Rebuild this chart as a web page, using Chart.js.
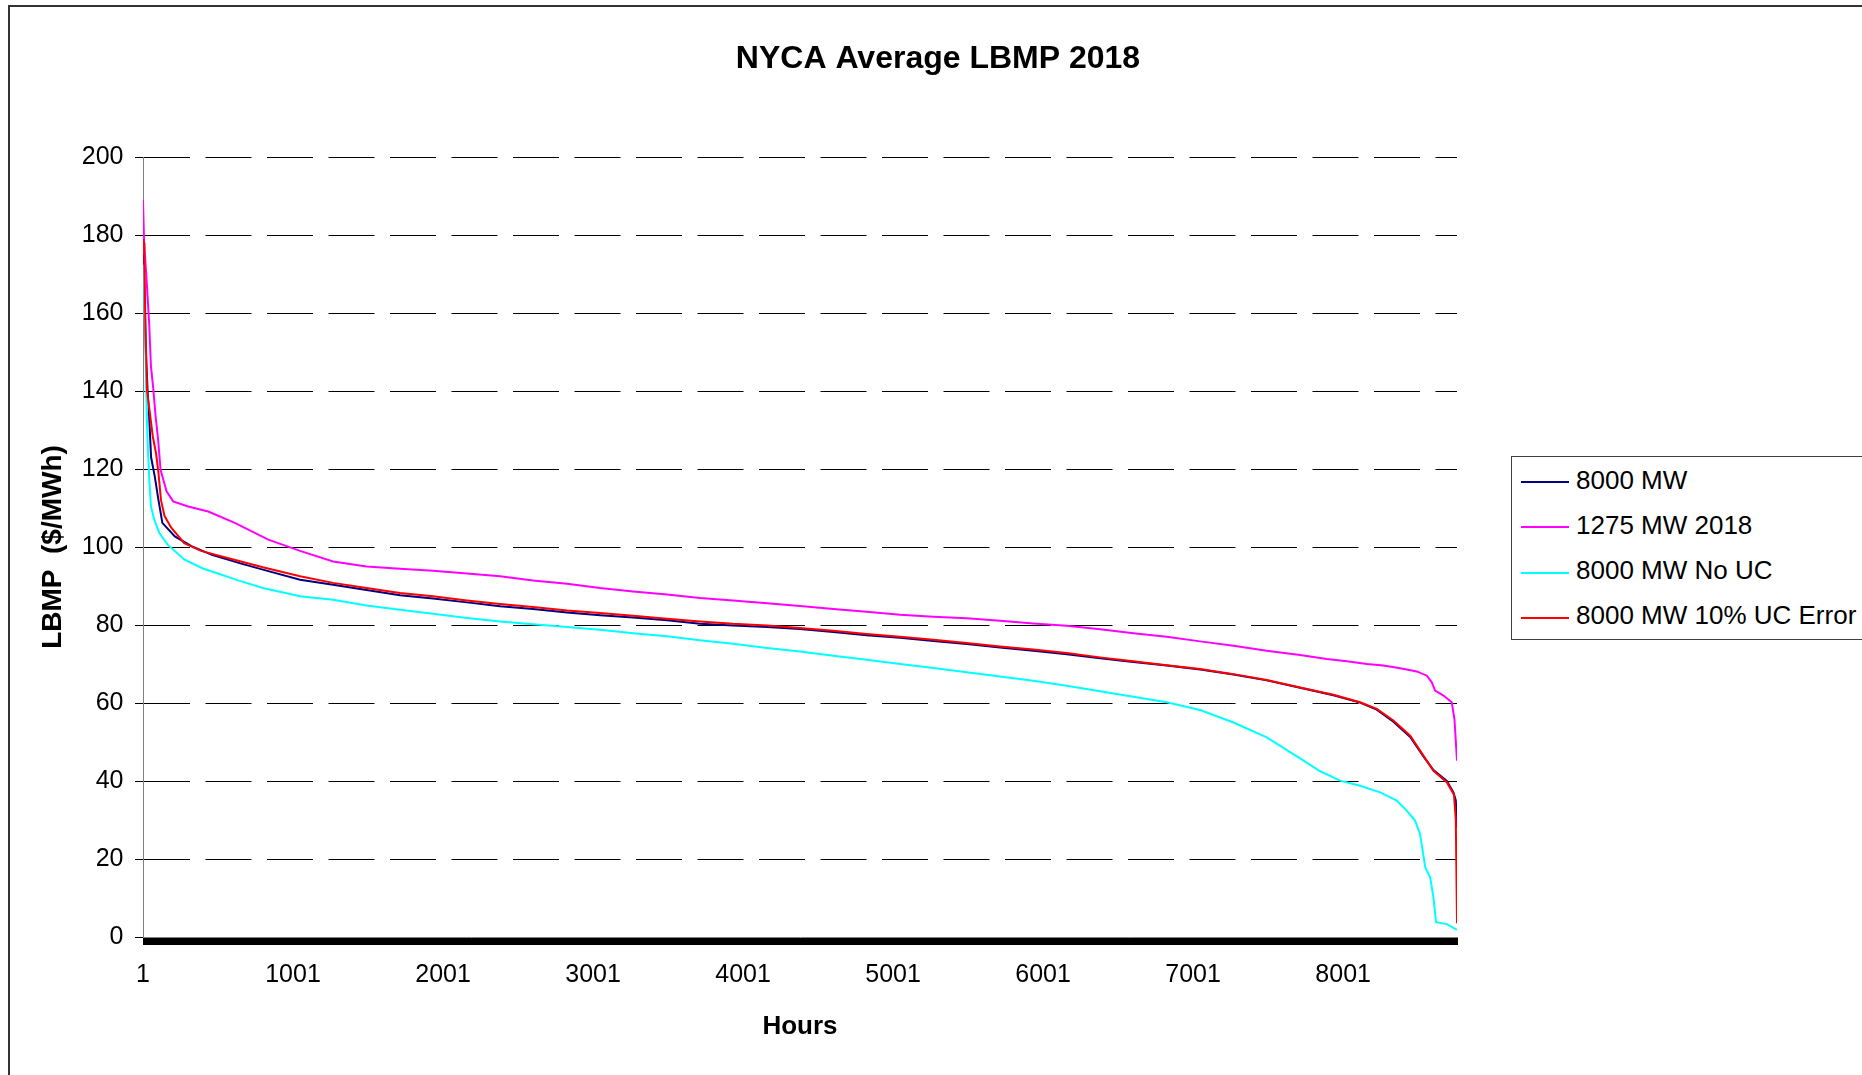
<!DOCTYPE html>
<html>
<head>
<meta charset="utf-8">
<title>NYCA Average LBMP 2018</title>
<script src="https://cdn.jsdelivr.net/npm/chart.js@4.4.1/dist/chart.umd.min.js"></script>
<style>
    html, body { margin: 0; padding: 0; background: #fff; overflow: hidden; }
    #wrap { position: relative; width: 1862px; height: 1075px; overflow: hidden; }
    #frame { position: absolute; left: 8px; top: 5px; width: 2000px; height: 1200px;
             border-top: 2px solid #333; border-left: 2px solid #333; }
    #chart { position: absolute; left: 0; top: 0; }
    #legend { position: absolute; left: 1511px; top: 456px; width: 420px; height: 182px;
              border: 1px solid #404040; background: #fff;
              font-family: "Liberation Sans", Arial, sans-serif; font-size: 26px; color: #000; }
    #legend .line { position: absolute; left: 9px; width: 48px; height: 2px; }
    #legend .txt { position: absolute; left: 64px; line-height: 30px; white-space: nowrap; }
</style>
</head>
<body>
<div id="wrap">
    <div id="frame"></div>
    <canvas id="chart" width="1862" height="1075"></canvas>
    <div id="legend"></div>
</div>
<script>
// 8000 MW
const mw8000Hours = [1, 10, 20, 33, 42, 55, 80, 100, 130, 213, 324, 460, 650, 800, 1048, 1268, 1491, 1714, 1934, 2161,
    2381, 2601, 2828, 3048, 3268, 3494, 3714, 3934, 4161, 4381, 4603, 4825, 5048, 5270, 5492, 5714, 5936, 6159, 6381, 6603,
    6825, 7048, 7270, 7492, 7714, 7936, 8114, 8225, 8336, 8448, 8536, 8603, 8692, 8736, 8752, 8760];
const mw8000Lbmp = [175, 168, 150, 139, 133.5, 123, 118, 113, 106.2, 102.7, 100.2, 98, 95.8, 94.2, 91.6, 90.3, 89.0, 87.6, 86.8, 85.8,
    84.8, 84.1, 83.2, 82.5, 81.9, 81.2, 80.3, 79.9, 79.5, 79.0, 78.2, 77.4, 76.7, 75.9, 75.1, 74.2, 73.4, 72.5, 71.5, 70.5,
    69.6, 68.6, 67.3, 65.8, 63.9, 62.0, 60.1, 58.3, 55.2, 51.3, 46.3, 42.8, 40.0, 37.1, 35, 28];

// 1275 MW 2018
const mw1275Hours = [1, 8, 25, 42, 54, 69, 85, 102, 118, 136, 158, 202, 302, 436, 613, 836, 1048, 1268, 1491, 1714,
    1934, 2161, 2381, 2601, 2828, 3048, 3268, 3494, 3714, 3934, 4161, 4381, 4603, 4825, 5048, 5270, 5492, 5714, 5936, 6159,
    6381, 6603, 6825, 7048, 7270, 7492, 7714, 7892, 8025, 8159, 8270, 8381, 8492, 8559, 8592, 8614, 8670, 8725, 8743, 8760];
const mw1275Lbmp = [189, 178.4, 168.5, 157.4, 146.3, 140.8, 133.5, 127.5, 119.8, 117.3, 114.3, 111.7, 110.4, 109.1, 106.2, 101.9, 99.0, 96.3, 95.0, 94.4,
    93.9, 93.2, 92.5, 91.4, 90.6, 89.5, 88.6, 87.8, 86.9, 86.3, 85.6, 84.9, 84.1, 83.4, 82.6, 82.1, 81.7, 81.1, 80.4, 79.8,
    78.9, 77.9, 77.0, 75.8, 74.7, 73.4, 72.3, 71.3, 70.7, 70.0, 69.6, 68.9, 68.1, 67.0, 65.3, 63.2, 61.9, 60.2, 55.9, 45.2];

// 8000 MW No UC
const noUcHours = [1, 8, 15, 23, 27, 32, 43, 54, 76, 110, 165, 276, 400, 500, 631, 800, 1048, 1268, 1491, 1714,
    1934, 2161, 2381, 2601, 2828, 3048, 3268, 3494, 3714, 3934, 4161, 4381, 4603, 4825, 5048, 5270, 5492, 5714, 5936, 6159,
    6381, 6603, 6825, 7048, 7270, 7492, 7714, 7848, 7981, 8114, 8248, 8359, 8425, 8481, 8514, 8548, 8581, 8603, 8620, 8692, 8760];
const noUcLbmp = [172.4, 166, 156.6, 139.5, 132.6, 126.7, 117.3, 110.4, 107, 103.6, 100.6, 96.8, 94.5, 93.2, 91.5, 89.5, 87.4, 86.5, 85.0, 83.9,
    82.9, 81.8, 80.9, 80.2, 79.5, 78.8, 77.9, 77.1, 76.1, 75.2, 74.1, 73.2, 72.1, 71.1, 70.0, 69.0, 67.9, 66.8, 65.7, 64.4,
    63.0, 61.6, 60.2, 58.2, 55.0, 51.2, 45.8, 42.5, 40.1, 38.8, 37.1, 35.0, 32.4, 29.8, 26.4, 17.9, 15.3, 10.2, 3.8, 3.3, 1.8];

// 8000 MW 10% UC Error
const ucErrHours = [1, 8, 10, 17, 28, 48, 66, 88, 104, 121, 144, 188, 276, 388, 565, 800, 1048, 1268, 1491, 1714,
    1934, 2161, 2381, 2601, 2828, 3048, 3268, 3494, 3714, 3934, 4161, 4381, 4603, 4825, 5048, 5270, 5492, 5714, 5936, 6159,
    6381, 6603, 6825, 7048, 7270, 7492, 7714, 7936, 8114, 8225, 8336, 8448, 8536, 8603, 8692, 8740, 8752, 8760];
const ucErrLbmp = [179, 178, 172, 157, 140, 134, 128.4, 124, 119, 112, 108, 105, 101, 99, 97.2, 94.8, 92.5, 90.8, 89.5, 88.2,
    87.4, 86.3, 85.4, 84.6, 83.7, 83.1, 82.4, 81.6, 80.9, 80.3, 79.9, 79.2, 78.5, 77.7, 77.0, 76.2, 75.4, 74.5, 73.7, 72.8,
    71.7, 70.7, 69.7, 68.7, 67.4, 65.9, 64.0, 62.1, 60.2, 58.5, 55.5, 51.6, 46.5, 42.6, 39.7, 36.5, 30, 3.5];

const hourLabels = [1, 1001, 2001, 3001, 4001, 5001, 6001, 7001, 8001];
const yTicks = [0, 20, 40, 60, 80, 100, 120, 140, 160, 180, 200];

const FONT = '"Liberation Sans", Arial, sans-serif';

// 時間と価格を組み合わせる
function toPoints(hours, values) {
    return hours.map((h, i) => ({ x: h, y: values[i] }));
}

const datasets = [
    { label: '8000 MW', data: toPoints(mw8000Hours, mw8000Lbmp), borderColor: '#000080', order: 4 },
    { label: '1275 MW 2018', data: toPoints(mw1275Hours, mw1275Lbmp), borderColor: '#FF00FF', order: 3 },
    { label: '8000 MW No UC', data: toPoints(noUcHours, noUcLbmp), borderColor: '#00FFFF', order: 2 },
    { label: '8000 MW 10% UC Error', data: toPoints(ucErrHours, ucErrLbmp), borderColor: '#FF0000', order: 1 }
];
datasets.forEach(ds => {
    ds.borderWidth = 2;
    ds.pointRadius = 0;
    ds.tension = 0;
    ds.fill = false;
});

const ctx = document.getElementById('chart').getContext('2d');
const chart = new Chart(ctx, {
    type: 'line',
    data: { datasets: datasets },
    options: {
        responsive: false,
        animation: false,
        devicePixelRatio: 1,
        layout: { padding: { left: 14, right: 0, top: 0, bottom: 0 } },
        plugins: {
            legend: { display: false },
            tooltip: { enabled: false },
            title: {
                display: true,
                text: 'NYCA Average LBMP 2018',
                color: '#000',
                font: { family: FONT, size: 32, weight: 'bold' },
                padding: { top: 40, bottom: 78.6 }
            }
        },
        scales: {
            x: {
                type: 'linear',
                min: 1,
                max: 8760,
                afterBuildTicks: (scale) => {
                    // 1時間ごとの目盛りで黒い帯を作る（Excel風）
                    const ticks = [];
                    for (let v = 1; v <= 8760; v += 5) ticks.push({ value: v });
                    ticks.push({ value: 8760 });
                    scale.ticks = ticks;
                },
                afterFit: (scale) => { scale.height = 138; },
                grid: { drawOnChartArea: false, tickLength: 8, tickColor: '#000', tickWidth: 1 },
                border: { color: '#808080', width: 1 },
                ticks: {
                    autoSkip: false,
                    maxRotation: 0,
                    padding: 15,
                    color: '#000',
                    font: { family: FONT, size: 25 },
                    callback: (v) => hourLabels.includes(v) ? String(v) : ''
                },
                title: {
                    display: true,
                    text: 'Hours',
                    color: '#000',
                    font: { family: FONT, size: 26, weight: 'bold' },
                    padding: { top: 0, bottom: 33 }
                }
            },
            y: {
                min: 0,
                max: 200,
                afterBuildTicks: (scale) => { scale.ticks = yTicks.map(v => ({ value: v })); },
                afterFit: (scale) => { scale.width = 129; },
                grid: {
                    color: (c) => (c.tick && c.tick.value === 0) ? 'rgba(0,0,0,0)' : '#000',
                    lineWidth: 1,
                    tickLength: 8,
                    tickColor: '#000'
                },
                border: { color: '#808080', width: 1, dash: [46, 15.5] },
                ticks: {
                    padding: 11.5,
                    color: '#000',
                    font: { family: FONT, size: 25 }
                },
                title: {
                    display: true,
                    text: 'LBMP  ($/MWh)',
                    color: '#000',
                    font: { family: FONT, size: 28, weight: 'bold' },
                    padding: { top: 22, bottom: 0 }
                }
            },
            yRight: {
                type: 'linear',
                position: 'right',
                grid: { display: false },
                border: { display: false },
                ticks: { display: false },
                afterFit: (scale) => { scale.width = 405; }
            }
        }
    }
});

// 凡例（データセットから作成）
const legendDiv = document.getElementById('legend');
chart.data.datasets.forEach((ds, i) => {
    const line = document.createElement('div');
    line.className = 'line';
    line.style.top = (24.3 + 45.1 * i) + 'px';
    line.style.background = ds.borderColor;
    legendDiv.appendChild(line);

    const txt = document.createElement('div');
    txt.className = 'txt';
    txt.style.top = (7.6 + 45.1 * i) + 'px';
    txt.textContent = ds.label;
    legendDiv.appendChild(txt);
});
</script>
</body>
</html>
